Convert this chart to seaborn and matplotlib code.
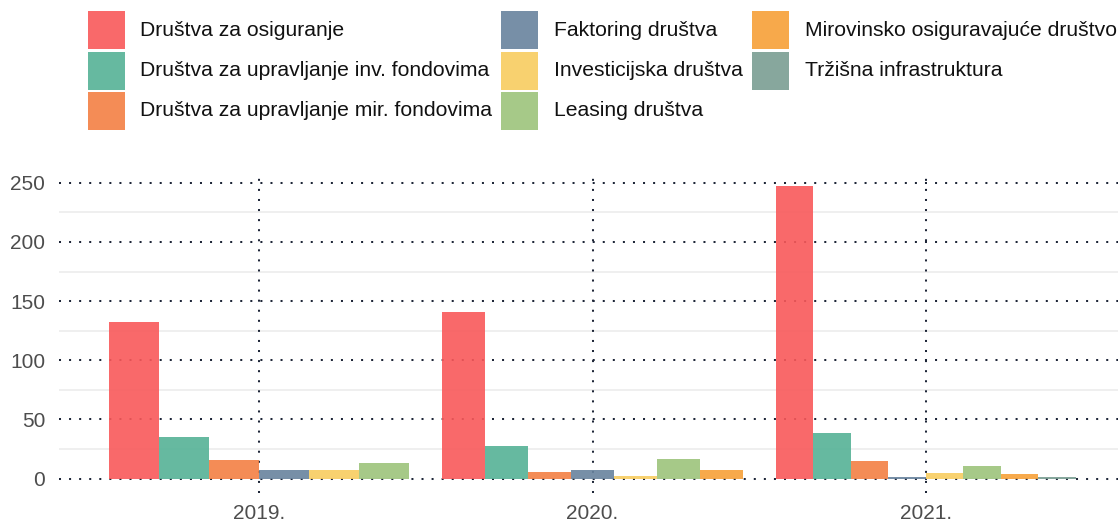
import matplotlib
matplotlib.use("Agg")
import matplotlib.pyplot as plt
from matplotlib.patches import Rectangle
import pandas as pd
import seaborn as sns

years = ["2019.", "2020.", "2021."]
series = [
    "Društva za osiguranje",
    "Društva za upravljanje inv. fondovima",
    "Društva za upravljanje mir. fondovima",
    "Faktoring društva",
    "Investicijska društva",
    "Leasing društva",
    "Mirovinsko osiguravajuće društvo",
    "Tržišna infrastruktura",
]
colors = ["#F9595A", "#55B296", "#F38043", "#68839E",
          "#F8CC5F", "#9DC47B", "#F7A037", "#7A9E93"]

# values per series for 2019, 2020, 2021 (None = no entry that year)
osiguranje = [132, 141, 247]
inv_fondovi = [35, 28, 39]
mir_fondovi = [16, 6, 15]
faktoring = [7, 7, 1]
investicijska = [7, 2, 5]
leasing = [13, 17, 11]
mirovinsko = [None, 7, 4]
trzisna = [None, None, 1]

values = [osiguranje, inv_fondovi, mir_fondovi, faktoring,
          investicijska, leasing, mirovinsko, trzisna]

rows = []
for name, vals in zip(series, values):
    for yr, v in zip(years, vals):
        if v is not None:
            rows.append({"godina": yr, "sektor": name, "iznos": v})
df = pd.DataFrame(rows)
palette = dict(zip(series, colors))

sns.set_theme(style="white")
plt.rcParams["font.family"] = ["Liberation Sans", "DejaVu Sans"]

fig = plt.figure(figsize=(11.18, 5.24), dpi=100)
W, H = 1118, 524
ax = fig.add_axes([59 / W, (H - 493.3) / H, (W - 59) / W, (493.3 - 171.7) / H])

dark = "#1E2638"
minor_grey = "#EBEBEB"

# light minor grid
for v in [25, 75, 125, 175, 225]:
    ax.axhline(v, color=minor_grey, lw=1.1, zorder=0)
# dotted major grid
for v in [0, 50, 100, 150, 200, 250]:
    ax.axhline(v, color=dark, lw=1.45, ls=(0, (1, 4)), zorder=0.5)
for i in range(len(years)):
    ax.axvline(i, color=dark, lw=1.45, ls=(0, (1, 4)), zorder=0.5)

# each year is dodged only among the sectors that report in it
for yr in years:
    sub = df[df["godina"] == yr]
    present = [s for s in series if s in set(sub["sektor"])]
    sns.barplot(data=sub, x="godina", y="iznos", hue="sektor",
                order=years, hue_order=present, palette=palette,
                width=0.9, saturation=1, alpha=0.9, linewidth=0,
                legend=False, ax=ax, zorder=1)

ax.set_xlim(-0.6, 2.576)
ax.set_ylim(-12.35, 259.35)
ax.set_yticks([0, 50, 100, 150, 200, 250])
ax.set_xlabel("")
ax.set_ylabel("")
ax.tick_params(axis="both", length=0, labelsize=15, colors="#4D4D4D")
ax.tick_params(axis="y", pad=10)
ax.tick_params(axis="x", pad=8)
for sp in ax.spines.values():
    sp.set_visible(False)
ax.grid(False)

# legend in three columns
key_x = [88, 501, 752]
text_x = [140, 554, 805]
row_y = [30, 71, 111]
for k, (name, col) in enumerate(zip(series, colors)):
    c, r = divmod(k, 3)
    x0 = key_x[c]
    y0 = row_y[r]
    fig.patches.append(Rectangle((x0 / W, (H - y0 - 19) / H), 37 / W, 38 / H,
                                 transform=fig.transFigure, facecolor=col,
                                 alpha=0.9, edgecolor="none"))
    fig.text(text_x[c] / W, (H - y0) / H, name, fontsize=15.2, color="#111111",
             va="center", ha="left")

fig.savefig("out.png", dpi=100)
